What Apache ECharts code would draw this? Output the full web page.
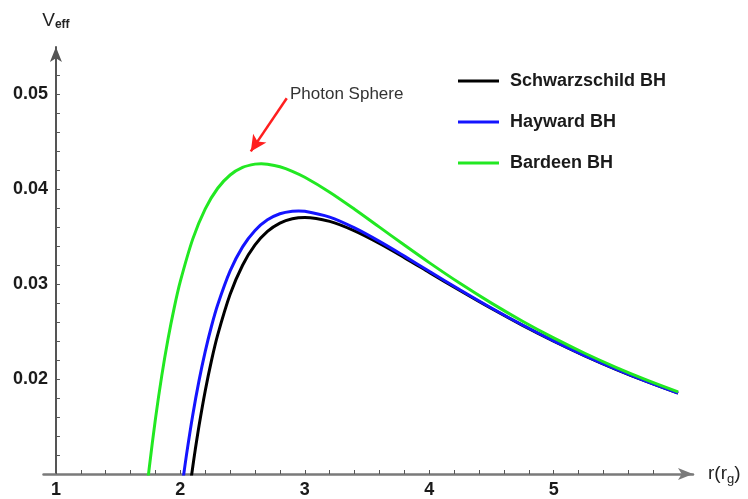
<!DOCTYPE html>
<html>
<head>
<meta charset="utf-8">
<script src="https://cdn.jsdelivr.net/npm/echarts@6/dist/echarts.min.js"></script>
<style>
html,body{margin:0;padding:0;background:#fff;}
#chart{width:748px;height:499px;}
</style>
</head>
<body>
<div id="chart"></div>
<script>
// ---- data ----
const seriesNames = ['Schwarzschild BH', 'Hayward BH', 'Bardeen BH'];

const rSchw = [2.08, 2.1, 2.12, 2.15, 2.2, 2.25, 2.3, 2.4, 2.5, 2.6, 2.7, 2.8, 2.9, 3.0, 3.2, 3.4, 3.6, 3.8, 4.0, 4.25, 4.5, 4.75, 5.0, 5.25, 5.5, 5.75, 6.0];
const vSchw = [0.00889, 0.010798, 0.012594, 0.015093, 0.018783, 0.021948, 0.024657, 0.028935, 0.032, 0.034137, 0.035564, 0.036443, 0.036902, 0.037037, 0.036621, 0.03562, 0.034294, 0.032804, 0.03125, 0.02931, 0.027435, 0.02566, 0.024, 0.02246, 0.021037, 0.019725, 0.018519];

const rHay = [2.02, 2.05, 2.1, 2.15, 2.2, 2.25, 2.3, 2.4, 2.5, 2.6, 2.7, 2.8, 2.9, 2.95, 3.0, 3.2, 3.4, 3.6, 3.8, 4.0, 4.25, 4.5, 4.75, 5.0, 5.25, 5.5, 5.75, 6.0];
const vHay = [0.009292, 0.012096, 0.016253, 0.019838, 0.022923, 0.025571, 0.027837, 0.031404, 0.033936, 0.03567, 0.036788, 0.037429, 0.037701, 0.037725, 0.03769, 0.037065, 0.035929, 0.034513, 0.032962, 0.031367, 0.029391, 0.027493, 0.025701, 0.024031, 0.022483, 0.021054, 0.019739, 0.018529];

const rBar = [1.72, 1.75, 1.8, 1.85, 1.9, 1.95, 2.0, 2.1, 2.2, 2.3, 2.4, 2.5, 2.6, 2.65, 2.7, 2.8, 2.9, 3.0, 3.2, 3.4, 3.6, 3.8, 4.0, 4.25, 4.5, 4.75, 5.0, 5.25, 5.5, 5.75, 6.0];
const vBar = [0.007166, 0.010656, 0.015838, 0.020314, 0.02417, 0.027482, 0.030315, 0.034779, 0.037947, 0.040114, 0.041511, 0.042313, 0.042658, 0.042693, 0.042651, 0.042377, 0.041899, 0.041269, 0.039704, 0.037908, 0.03602, 0.034126, 0.032276, 0.03007, 0.028008, 0.026098, 0.024339, 0.022726, 0.021248, 0.019895, 0.018656];

const xLabels = [1, 2, 3, 4, 5];
const xTicks = [1, 1.2, 1.4, 1.6, 1.8, 2, 2.2, 2.4, 2.6, 2.8, 3, 3.2, 3.4, 3.6, 3.8, 4, 4.2, 4.4, 4.6, 4.8, 5, 5.2, 5.4, 5.6, 5.8];
const yLabels = [0.02, 0.03, 0.04, 0.05];
const yTicks = [0.012, 0.014, 0.016, 0.018, 0.02, 0.022, 0.024, 0.026, 0.028, 0.03, 0.032, 0.034, 0.036, 0.038, 0.04, 0.042, 0.044, 0.046, 0.048, 0.05, 0.052];

const annotationText = 'Photon Sphere';
const arrowFrom = [2.855, 0.0496];
const arrowTo = [2.566, 0.0440];

// ---- layout ----
const X_MIN = 0.9, X_MAX = 6.12, Y_MIN = 0.01, Y_MAX = 0.0550;
const gridLeft = 43.5, gridRight = 55, gridTop = 47, gridBottom = 23;
const gridW = 748 - gridLeft - gridRight;
const yAxisOffset = -(1 - X_MIN) * gridW / (X_MAX - X_MIN);

const colors = ['#000000', '#1414ff', '#22e822'];
function pairs(xs, ys) { return xs.map((x, i) => [x, ys[i]]); }

const chart = echarts.init(document.getElementById('chart'));
const font = '"Liberation Sans", Arial, sans-serif';
const SMOOTH = 0.3;

chart.setOption({
  animation: false,
  textStyle: { fontFamily: font },
  grid: { left: gridLeft, right: gridRight, top: gridTop, bottom: gridBottom, containLabel: false },
  legend: {
    orient: 'vertical',
    left: 453, top: 66,
    itemWidth: 41, itemHeight: 3,
    itemGap: 21,
    icon: 'rect',
    data: seriesNames,
    textStyle: { fontSize: 18, fontWeight: 'bold', color: '#1a1a1a', lineHeight: 20, padding: [0, 0, 0, 6], fontFamily: font }
  },
  xAxis: {
    type: 'value', min: X_MIN, max: X_MAX,
    name: 'r(r{s|g})',
    nameLocation: 'end', nameGap: 15,
    nameTextStyle: { fontSize: 19, color: '#222', fontFamily: font, verticalAlign: 'middle',
      rich: { s: { fontSize: 13, color: '#222', padding: [10, 0, 0, 0], fontFamily: font } } },
    axisLine: { show: true, onZero: false, symbol: ['none', 'arrow'], symbolSize: [9, 15], lineStyle: { color: '#7a7a7a', width: 2.5 } },
    axisTick: { show: true, inside: true, length: 4, customValues: xTicks, lineStyle: { color: '#555', width: 1 } },
    axisLabel: { show: true, customValues: xLabels, margin: 7, fontSize: 18, fontWeight: 'bold', color: '#1a1a1a', fontFamily: font, formatter: v => String(v) },
    splitLine: { show: false }
  },
  yAxis: {
    type: 'value', min: Y_MIN, max: Y_MAX,
    position: 'left', offset: yAxisOffset,
    name: '{v|V}{e|eff}',
    nameLocation: 'end', nameGap: 16,
    nameTextStyle: { fontFamily: font,
      rich: { v: { fontSize: 19, color: '#222', fontFamily: font },
              e: { fontSize: 12, fontWeight: 'bold', color: '#222', padding: [8, 0, 0, 0], fontFamily: font } } },
    axisLine: { show: true, onZero: false, symbol: ['none', 'arrow'], symbolSize: [9, 15], lineStyle: { color: '#555', width: 2 } },
    axisTick: { show: true, inside: true, length: 4, customValues: yTicks, lineStyle: { color: '#555', width: 1 } },
    axisLabel: { show: true, customValues: yLabels, margin: 8, fontSize: 18, fontWeight: 'bold', color: '#1a1a1a', fontFamily: font, formatter: v => v.toFixed(2) },
    splitLine: { show: false }
  },
  series: [
    { name: seriesNames[0], type: 'line', data: pairs(rSchw, vSchw), smooth: SMOOTH, showSymbol: false, clip: true,
      lineStyle: { color: colors[0], width: 3 }, itemStyle: { color: colors[0] } },
    { name: seriesNames[1], type: 'line', data: pairs(rHay, vHay), smooth: SMOOTH, showSymbol: false, clip: true,
      lineStyle: { color: colors[1], width: 3 }, itemStyle: { color: colors[1] } },
    { name: seriesNames[2], type: 'line', data: pairs(rBar, vBar), smooth: SMOOTH, showSymbol: false, clip: true,
      lineStyle: { color: colors[2], width: 3 }, itemStyle: { color: colors[2] },
      markLine: {
        silent: true, animation: false,
        symbol: ['none', 'arrow'], symbolSize: [12, 16],
        lineStyle: { color: '#ff1f1f', width: 2.5, type: 'solid' },
        label: { show: false },
        data: [[{ coord: arrowFrom }, { coord: arrowTo }]]
      }
    }
  ],
  graphic: [
    { type: 'text', left: 290, top: 86, silent: true,
      style: { text: annotationText, fontSize: 17, fill: '#333', fontFamily: font } }
  ]
});
</script>
</body>
</html>
